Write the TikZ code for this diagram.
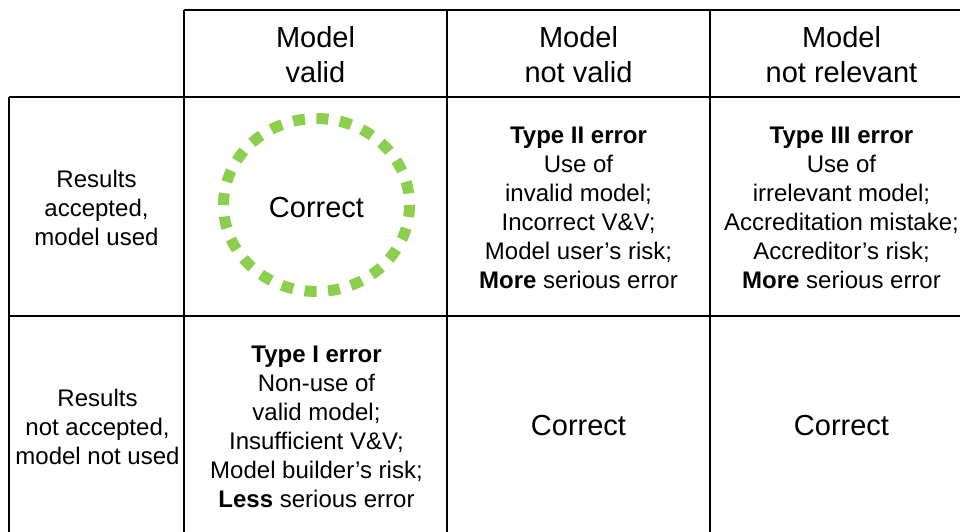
\documentclass[tikz,border=0pt]{standalone}
\usepackage{fontspec}
\setmainfont{Liberation Sans}
\definecolor{dashgreen}{RGB}{140,206,78}
\begin{document}
\begin{tikzpicture}[x=1pt,y=-1pt,
  gridline/.style={line width=1.5pt,black},
  headtext/.style={align=center,inner sep=0pt,font=\fontsize{29}{35}\selectfont},
  celltext/.style={align=center,inner sep=0pt,font=\fontsize{24}{29}\selectfont},
  bigtext/.style={inner sep=0pt,font=\fontsize{29}{35}\selectfont},
  ring/.style={draw=dashgreen,line width=11pt,dash pattern=on 12pt off 11.5pt}]
\useasboundingbox (0,0) rectangle (960,532);
% grid
\draw[gridline] (184,10) -- (962,10);
\draw[gridline] (9,97) -- (962,97);
\draw[gridline] (9,316) -- (962,316);
\draw[gridline] (9,97) -- (9,534);
\draw[gridline] (184,10) -- (184,534);
\draw[gridline] (447,10) -- (447,534);
\draw[gridline] (710,10) -- (710,534);
% headers
\node[headtext] (h1) at (315.5,55) {Model\\valid};
\node[headtext] (h2) at (578.5,55) {Model\\not valid};
\node[headtext] (h3) at (841.5,55) {Model\\not relevant};
% row headers
\node[celltext] (r1) at (96.5,208) {Results\\accepted,\\model used};
\node[celltext] (r2) at (97.5,427) {Results\\not accepted,\\model not used};
% ring and cells
\draw[ring] (316.5,205) ellipse [x radius=93, y radius=86.5];
\node[bigtext] (c11) at (316.5,208) {Correct};
\node[celltext] (c12) at (578.5,208) {\textbf{Type II error}\\Use of\\invalid model;\\Incorrect V\&V;\\Model user’s risk;\\\textbf{More} serious error};
\node[celltext] (c13) at (841.5,208) {\textbf{Type III error}\\Use of\\irrelevant model;\\Accreditation mistake;\\Accreditor’s risk;\\\textbf{More} serious error};
\node[celltext] (c21) at (316.5,427) {\textbf{Type I error}\\Non-use of\\valid model;\\Insufficient V\&V;\\Model builder’s risk;\\\textbf{Less} serious error};
\node[bigtext] (c22) at (578.5,426) {Correct};
\node[bigtext] (c23) at (841.5,426) {Correct};
\end{tikzpicture}
\end{document}
